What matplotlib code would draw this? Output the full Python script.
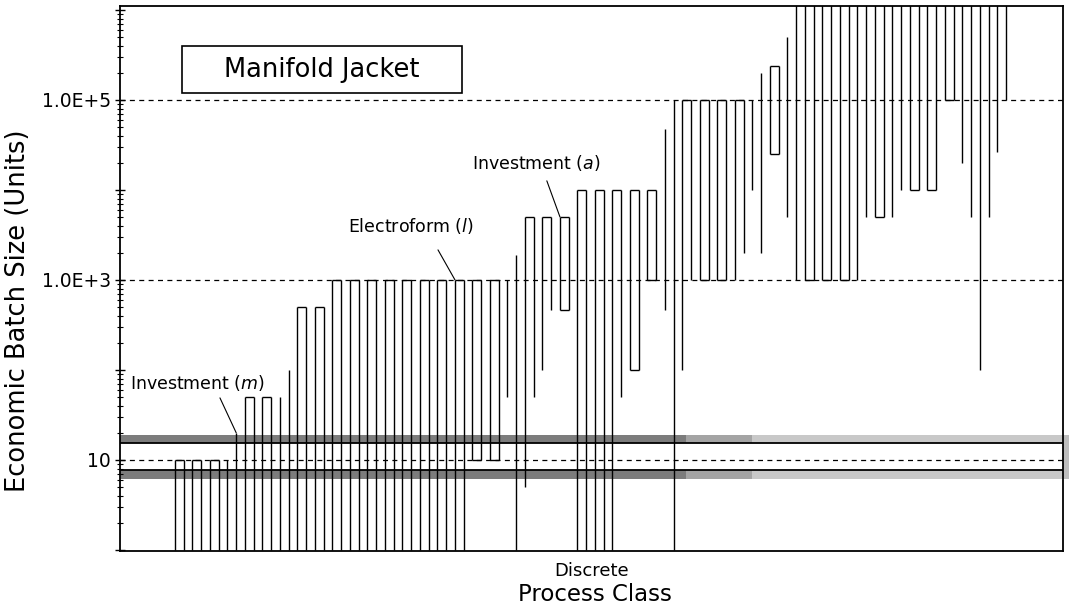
import numpy as np
import matplotlib.pyplot as plt
from matplotlib.patches import Rectangle
from matplotlib.ticker import FixedLocator, FuncFormatter, LogLocator

plt.rcParams['font.family'] = ['DejaVu Sans']
plt.rcParams['mathtext.fontset'] = 'dejavusans'

TOP = 2e6  # range runs off the top of the chart

# economic batch size range of each process line, left to right
batch_low = [1, 1, 1, 1, 1, 1, 1, 1, 1, 1, 1, 1, 1, 1, 1, 1, 1, 1,
             1, 1, 1, 1, 1, 1, 1, 1, 1, 1, 1, 1, 1, 1, 1, 1,
             10, 10, 10, 10, 50, 1, 5, 50, 100, 460, 460, 460,
             1, 1, 1, 1, 1, 50, 100, 100, 1000, 1000,
             460, 1, 100, 1000, 1000, 1000, 1000, 1000, 1000, 2000, 1e4,
             2000, 25000, 25000, 5000,
             1000, 1000, 1000, 1000, 1000, 1000, 1000, 1000,
             5000, 5000, 5000, 5000, 1e4, 1e4, 1e4, 1e4, 1e4,
             1e5, 1e5, 2e4, 5000, 100, 5000, 26000, 1e5]
batch_high = [10, 10, 10, 10, 10, 10, 10, 20, 50, 50, 50, 50, 50, 100,
              500, 500, 500, 500,
              1000, 1000, 1000, 1000, 1000, 1000, 1000, 1000, 1000, 1000,
              1000, 1000, 1000, 1000, 1000, 1000, 1000, 1000, 1000, 1000,
              1000, 1900, 5000, 5000, 5000, 5000, 5000, 5000,
              1e4, 1e4, 1e4, 1e4, 1e4, 1e4, 1e4, 1e4, 1e4, 1e4,
              48000, 1e5, 1e5, 1e5, 1e5, 1e5, 1e5, 1e5, 1e5, 1e5, 1e5,
              2e5, 2.4e5, 2.4e5, 5e5] + [TOP] * 25

# required batch size band
band_low, band_high = 7.8, 15.5
grid_levels = [10, 1e3, 1e5]
tick_text = {10: '10', 1e3: '1.0E+3', 1e5: '1.0E+5'}

low = np.array(batch_low, dtype=float)
high = np.array(batch_high, dtype=float)
x = np.arange(len(low))

fig = plt.figure(figsize=(10.7, 6.05), dpi=100)
ax = fig.add_axes([0.1121, 0.0893, 0.8814, 0.9007])
ax.set_yscale('log')
ax.set_xlim(-6.29, 101.5)
ax.set_ylim(0.975, 1.1e6)

# shaded band around the required batch size
for x0, x1, c in [(0.0, 0.6, '#7c7c7c'), (0.6, 0.67, '#a4a4a4'), (0.67, 1.0, '#c8c8c8')]:
    ax.axhspan(band_high, band_high * 1.22, x0, x1, color=c, lw=0, zorder=1)
    ax.axhspan(band_low / 1.27, band_low, x0, x1, color=c, lw=0, zorder=1)
ax.add_patch(Rectangle((1.0, band_low / 1.27), 0.006, band_high * 1.22 - band_low / 1.27,
                       transform=ax.get_yaxis_transform(), color='#bdbdbd', lw=0,
                       clip_on=False, zorder=1))

for lv in grid_levels:
    ax.axhline(lv, color='k', lw=0.9, ls=(0, (4, 3.5)), zorder=2)

ax.vlines(x, low, high, color='k', lw=1.0, zorder=3)
# caps joining the two sides of a range bar
for k in range(0, len(x) - 1, 2):
    if high[k] == high[k + 1] and high[k] < TOP:
        ax.hlines(high[k], x[k], x[k + 1], color='k', lw=1.0, zorder=3)
    if low[k] == low[k + 1] and low[k] > 1:
        ax.hlines(low[k], x[k], x[k + 1], color='k', lw=1.0, zorder=3)

ax.axhline(band_high, color='k', lw=1.3, zorder=4)
ax.axhline(band_low, color='k', lw=1.3, zorder=4)

# title box
ax.add_patch(Rectangle((0.0657, 0.8404), 0.297, 0.0862, transform=ax.transAxes,
                       facecolor='white', edgecolor='k', lw=1.2, zorder=5))
ax.text(0.214, 0.8835, 'Manifold Jacket', transform=ax.transAxes, fontsize=18.5,
        ha='center', va='center', zorder=6)

# labelled processes
ax.text(-5.14, 71.7, 'Investment ($\\mathit{m}$)', fontsize=12.5, ha='left', va='center')
ax.annotate('', xy=(7, batch_high[7]), xytext=(5.14, 48.9),
            arrowprops=dict(arrowstyle='-', lw=0.8, color='k', shrinkA=0, shrinkB=0))
ax.text(26.97, 3981, 'Electroform ($\\mathit{l}$)', fontsize=12.5, ha='center', va='center')
ax.annotate('', xy=(32, batch_high[32]), xytext=(30.06, 2154),
            arrowprops=dict(arrowstyle='-', lw=0.8, color='k', shrinkA=0, shrinkB=0))
ax.text(41.26, 19953, 'Investment ($\\mathit{a}$)', fontsize=12.5, ha='center', va='center')
ax.annotate('', xy=(44, batch_high[44]), xytext=(42.5, 12589),
            arrowprops=dict(arrowstyle='-', lw=0.8, color='k', shrinkA=0, shrinkB=0))

# axes styling
ax.yaxis.set_major_locator(FixedLocator([1, 10, 1e2, 1e3, 1e4, 1e5, 1e6]))
ax.yaxis.set_minor_locator(LogLocator(base=10, subs=np.arange(2, 10)))
ax.yaxis.set_major_formatter(FuncFormatter(lambda v, p: tick_text.get(v, '')))
ax.yaxis.set_minor_formatter(FuncFormatter(lambda v, p: ''))
ax.tick_params(axis='y', which='major', direction='inout', length=7, width=1, labelsize=13.5, pad=3)
ax.tick_params(axis='y', which='minor', direction='inout', length=4, width=0.8)

xc = sum(ax.get_xlim()) / 2
ax.set_xticks([xc])
ax.set_xticklabels(['Discrete'])
ax.tick_params(axis='x', length=0, labelsize=13, pad=8)

for s in ax.spines.values():
    s.set_linewidth(1.3)

ax.set_xlabel('Process Class', fontsize=16.5)
ax.xaxis.set_label_coords(0.504, -0.058)
ax.set_ylabel('Economic Batch Size (Units)', fontsize=18.5)
ax.yaxis.set_label_coords(-0.094, 0.44)

fig.savefig('out.png', dpi=100)
